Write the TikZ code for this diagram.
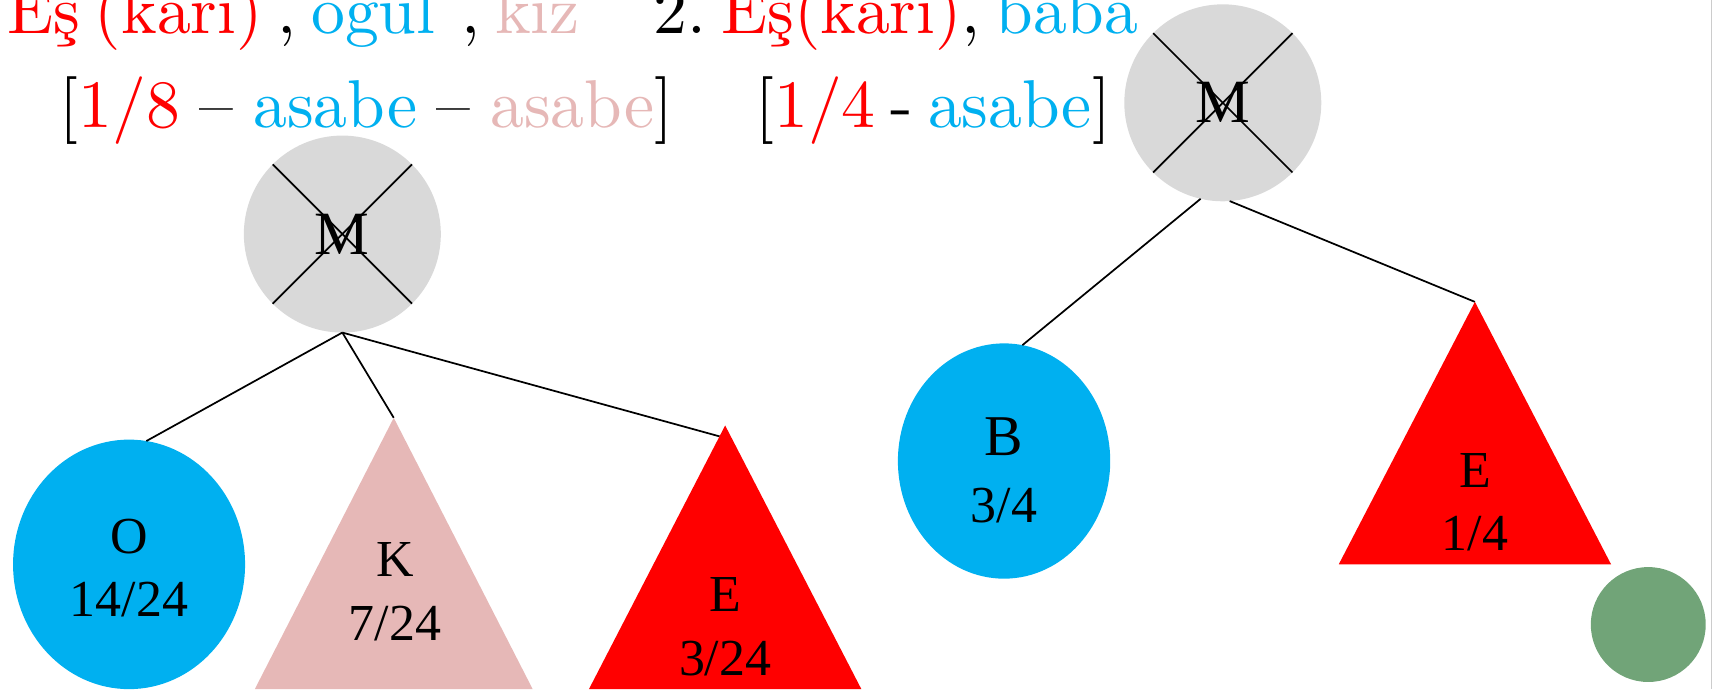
\documentclass[tikz,border=0pt]{standalone}
\usepackage{fontspec}
\newfontfamily\tnr{Liberation Serif}
\newfontfamily\lmon[Ligatures=TeX]{lmroman10-regular.otf}
\newcommand\baslikfont{\lmon\fontsize{17.6}{21}\selectfont\frenchspacing\spaceskip 0.22em\relax}
\usetikzlibrary{positioning, shapes.geometric}
\definecolor{mavi}{RGB}{0,176,240}
\definecolor{pembe}{RGB}{230,184,183}
\definecolor{gri}{RGB}{217,217,217}
\definecolor{yesil}{RGB}{113,164,120}

\begin{document}
\begin{tikzpicture}[x=0.01cm, y=-0.01cm,
		baslik/.style={anchor=base west, inner sep=0, font=\baslikfont},
		olu/.style={circle, fill=gri, minimum size=1.8cm, inner sep=0, outer sep=0,
			font=\tnr\fontsize{16}{18}\selectfont},
		kisi/.style={ellipse, fill=mavi, inner sep=0, outer sep=0},
		etiket/.style={align=center, inner sep=0, font=\tnr\fontsize{13.5}{16.5}\selectfont},
		kol/.style={line width=0.45pt}
		]
		\useasboundingbox (0,0) rectangle (1568,630);
		
		\node[baslik](T1) at (6,31){\textcolor{red}{Eş (karı)} , \textcolor{mavi}{ogul}\, , \textcolor{pembe}{kız}};
		\node[baslik](T2) at (54,117){\spaceskip 0.29em\relax [\textcolor{red}{1/8} – \textcolor{mavi}{asabe} – \textcolor{pembe}{asabe}]};
		\node[baslik](T3) at (597,31){2. \textcolor{red}{Eş(karı)}, \textcolor{mavi}{baba}};
		\node[baslik](T4) at (690,117){[\textcolor{red}{1/4} - \textcolor{mavi}{asabe}]};
		
		\node[olu](M1) at (313,214){M};
		\node[olu](M2) at (1118,94){M};
		\draw[kol] (M1.north west) -- (M1.south east);
		\draw[kol] (M1.north east) -- (M1.south west);
		\draw[kol] (M2.north west) -- (M2.south east);
		\draw[kol] (M2.north east) -- (M2.south west);
		
		\node[kisi, minimum width=2.12cm, minimum height=2.28cm](O1) at (118,516){};
		\node[kisi, minimum width=1.94cm, minimum height=2.15cm](B2) at (918,421.5){};
		\coordinate (K1) at (360,382);
		\coordinate (E1) at (663,389);
		\coordinate (E2) at (1348.5,276);
		
		\draw[kol] (M1.south) -- (O1.82);
		\draw[kol] (M1.south) -- (K1);
		\draw[kol] (M1.south) -- ([xshift=-0.05cm, yshift=-0.1cm]E1);
		\draw[kol] (M2.257) -- (B2.81);
		\draw[kol] (M2.274) -- (E2);
		
		\fill[pembe] (K1) -- ++(-127,248) -- ++(254,0) -- cycle;
		\fill[red] (E1) -- ++(-124.5,241) -- ++(249,0) -- cycle;
		\fill[red] (E2) -- ++(-124.5,240) -- ++(249,0) -- cycle;
		
		\node[etiket](O1y) at (118,519.5){O\\14/24};
		\node[etiket](K1y) at (361,541){K\\7/24};
		\node[etiket](E1y) at (663,573){E\\3/24};
		\node[etiket](B2y) at (918,430){{\fontsize{15}{17}\selectfont B}\\[1pt]3/4};
		\node[etiket](E2y) at (1348.5,459){E\\1/4};
		
		\node[circle, fill=yesil, minimum size=1.05cm, inner sep=0](G1) at (1507,571){};
		\draw[gray!40, line width=0.4pt] (1565,0) -- (1565,630);
	\end{tikzpicture}
\end{document}
